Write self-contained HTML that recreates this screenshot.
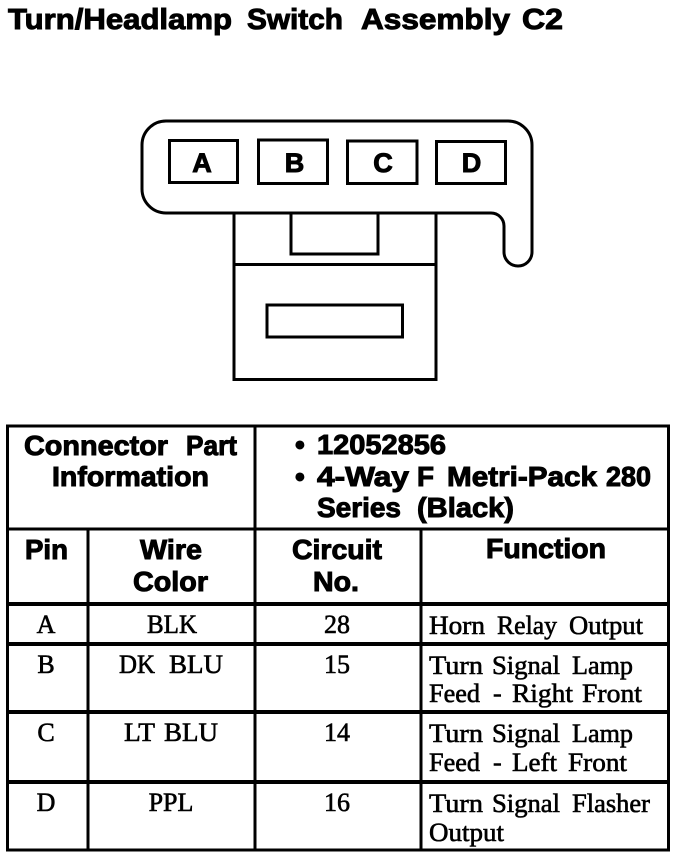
<!DOCTYPE html>
<html>
<head>
<meta charset="utf-8">
<style>
html,body{margin:0;padding:0;background:#fff;}
svg{display:block;}
.h{font-family:"Liberation Sans",sans-serif;font-weight:bold;fill:#000;stroke:#000;stroke-width:1px;}
.s{font-family:"Liberation Serif",serif;fill:#000;stroke:#000;stroke-width:.6px;}
</style>
</head>
<body>
<svg width="688" height="860" viewBox="0 0 688 860" xmlns="http://www.w3.org/2000/svg">
<rect width="688" height="860" fill="#fff"/>
<g class="h" font-size="29">
<text x="8" y="29" textLength="224" lengthAdjust="spacingAndGlyphs">Turn/Headlamp</text>
<text x="247" y="29" textLength="96" lengthAdjust="spacingAndGlyphs">Switch</text>
<text x="361" y="29" textLength="149" lengthAdjust="spacingAndGlyphs">Assembly</text>
<text x="522" y="29" textLength="41" lengthAdjust="spacingAndGlyphs">C2</text>
</g>

<g fill="none" stroke="#000" stroke-width="3">
<path d="M166 121 H508 A24 24 0 0 1 532 145 V252 A14 14 0 0 1 504 252 V226 A13 13 0 0 0 491 213 H166 A24 24 0 0 1 142 189 V145 A24 24 0 0 1 166 121 Z"/>
<rect x="169.500" y="140.500" width="68" height="42"/>
<rect x="258.500" y="140" width="69" height="43.500"/>
<rect x="347.500" y="141" width="69.500" height="42.500"/>
<rect x="436.500" y="141.500" width="69" height="42"/>
<path d="M234 213 V379.500 H436 V213"/>
<path d="M234 264.500 H436"/>
<path d="M291 213 V254 H378 V213"/>
<rect x="267" y="305" width="135.500" height="32"/>
</g>
<g class="h" font-size="27" text-anchor="middle">
<text x="202" y="172">A</text>
<text x="294.500" y="172">B</text>
<text x="383" y="172">C</text>
<text x="471.500" y="172">D</text>
</g>

<g fill="none" stroke="#000">
<rect x="7.500" y="426" width="661" height="424" stroke-width="3"/>
<path d="M8 529 H668" stroke-width="3"/>
<path d="M8 604 H668" stroke-width="4"/>
<path d="M8 644 H668" stroke-width="4"/>
<path d="M8 712 H668" stroke-width="4"/>
<path d="M8 782 H668" stroke-width="4"/>
<path d="M255 427 V849" stroke-width="3"/>
<path d="M88 529 V849" stroke-width="3"/>
<path d="M421 529 V849" stroke-width="3"/>
</g>

<g class="h" font-size="28">
<text x="24" y="455" textLength="144" lengthAdjust="spacingAndGlyphs">Connector</text>
<text x="186" y="455" textLength="51" lengthAdjust="spacingAndGlyphs">Part</text>
<text x="52" y="486" textLength="157" lengthAdjust="spacingAndGlyphs">Information</text>
<text x="295" y="454">•</text>
<text x="317" y="454" textLength="129" lengthAdjust="spacingAndGlyphs">12052856</text>
<text x="295" y="486">•</text>
<text x="317" y="486" textLength="92" lengthAdjust="spacingAndGlyphs">4-Way</text>
<text x="417" y="486" textLength="17" lengthAdjust="spacingAndGlyphs">F</text>
<text x="447" y="486" textLength="150" lengthAdjust="spacingAndGlyphs">Metri-Pack</text>
<text x="606" y="486" textLength="45" lengthAdjust="spacingAndGlyphs">280</text>
<text x="317" y="517" textLength="84" lengthAdjust="spacingAndGlyphs">Series</text>
<text x="417" y="517" textLength="97" lengthAdjust="spacingAndGlyphs">(Black)</text>
<text x="25" y="559" textLength="43" lengthAdjust="spacingAndGlyphs">Pin</text>
<text x="140" y="559" textLength="62" lengthAdjust="spacingAndGlyphs">Wire</text>
<text x="133" y="591" textLength="75" lengthAdjust="spacingAndGlyphs">Color</text>
<text x="292" y="559" textLength="90" lengthAdjust="spacingAndGlyphs">Circuit</text>
<text x="313" y="591" textLength="46" lengthAdjust="spacingAndGlyphs">No.</text>
<text x="486" y="558" textLength="120" lengthAdjust="spacingAndGlyphs">Function</text>
</g>

<g class="s" font-size="26">
<text x="46" y="633" text-anchor="middle">A</text>
<text x="147" y="633" textLength="50" lengthAdjust="spacingAndGlyphs">BLK</text>
<text x="337" y="633" text-anchor="middle">28</text>
<text x="429" y="634" textLength="56" lengthAdjust="spacingAndGlyphs">Horn</text>
<text x="497" y="634" textLength="60" lengthAdjust="spacingAndGlyphs">Relay</text>
<text x="569" y="634" textLength="74" lengthAdjust="spacingAndGlyphs">Output</text>

<text x="46" y="673" text-anchor="middle">B</text>
<text x="119" y="673" textLength="36" lengthAdjust="spacingAndGlyphs">DK</text>
<text x="169" y="673" textLength="54" lengthAdjust="spacingAndGlyphs">BLU</text>
<text x="337" y="673" text-anchor="middle">15</text>
<text x="429" y="674" textLength="54" lengthAdjust="spacingAndGlyphs">Turn</text>
<text x="492" y="674" textLength="68" lengthAdjust="spacingAndGlyphs">Signal</text>
<text x="572" y="674" textLength="61" lengthAdjust="spacingAndGlyphs">Lamp</text>
<text x="429" y="702" textLength="51" lengthAdjust="spacingAndGlyphs">Feed</text>
<text x="493" y="702">-</text>
<text x="512" y="702" textLength="61" lengthAdjust="spacingAndGlyphs">Right</text>
<text x="582" y="702" textLength="60" lengthAdjust="spacingAndGlyphs">Front</text>

<text x="46" y="741" text-anchor="middle">C</text>
<text x="124" y="741" textLength="31" lengthAdjust="spacingAndGlyphs">LT</text>
<text x="164" y="741" textLength="54" lengthAdjust="spacingAndGlyphs">BLU</text>
<text x="337" y="741" text-anchor="middle">14</text>
<text x="429" y="742" textLength="54" lengthAdjust="spacingAndGlyphs">Turn</text>
<text x="492" y="742" textLength="68" lengthAdjust="spacingAndGlyphs">Signal</text>
<text x="572" y="742" textLength="61" lengthAdjust="spacingAndGlyphs">Lamp</text>
<text x="429" y="771" textLength="51" lengthAdjust="spacingAndGlyphs">Feed</text>
<text x="493" y="771">-</text>
<text x="512" y="771" textLength="45" lengthAdjust="spacingAndGlyphs">Left</text>
<text x="568" y="771" textLength="59" lengthAdjust="spacingAndGlyphs">Front</text>

<text x="46" y="811" text-anchor="middle">D</text>
<text x="171" y="811" text-anchor="middle">PPL</text>
<text x="337" y="811" text-anchor="middle">16</text>
<text x="429" y="812" textLength="54" lengthAdjust="spacingAndGlyphs">Turn</text>
<text x="492" y="812" textLength="68" lengthAdjust="spacingAndGlyphs">Signal</text>
<text x="572" y="812" textLength="78" lengthAdjust="spacingAndGlyphs">Flasher</text>
<text x="429" y="841" textLength="75" lengthAdjust="spacingAndGlyphs">Output</text>
</g>
</svg>
</body>
</html>
